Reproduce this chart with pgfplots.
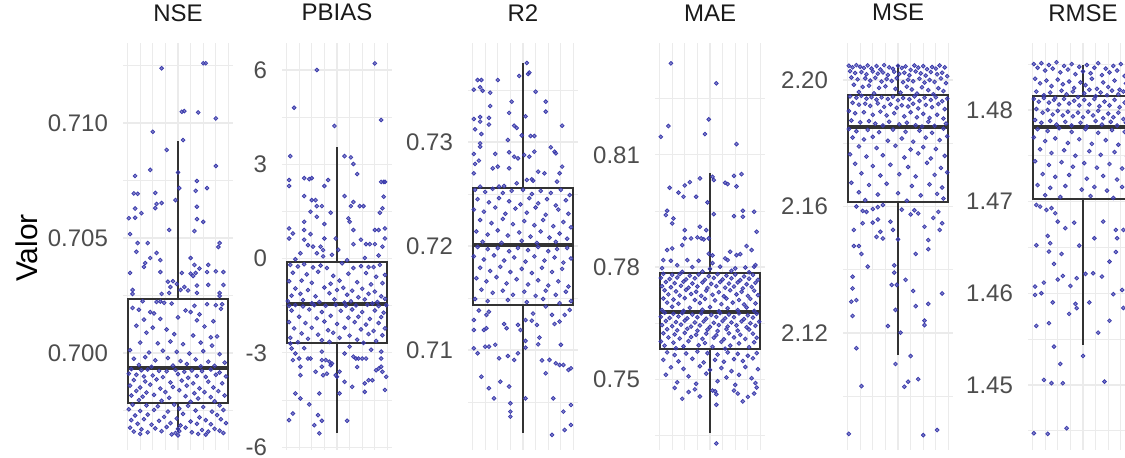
\documentclass[border=0pt]{standalone}
\usepackage{pgfplots}
\pgfplotsset{compat=1.18}
\usepackage{fontspec}
\setmainfont{Liberation Sans}
\definecolor{gridc}{RGB}{235,235,235}
\definecolor{ptc}{RGB}{60,60,172}
\definecolor{boxc}{RGB}{51,51,51}
\definecolor{tickc}{RGB}{77,77,77}
\definecolor{stripc}{RGB}{26,26,26}
\pgfplotsset{
  panel/.style={
    scale only axis, width=55pt, height=203.5pt, anchor=south west,
    xmin=-43.6, xmax=43.6,
    axis line style={draw=none},
    major tick length=0pt, minor tick length=0pt,
    xtick={-40,-30,...,40}, xticklabels={},
    xmajorgrids, ymajorgrids, yminorgrids,
    grid style={gridc, line width=0.6pt},
    minor grid style={gridc, line width=0.4pt},
    scaled y ticks=false,
    tick label style={font=\fontsize{12}{14}\selectfont, text=tickc},
    yticklabel style={xshift=-4pt},
    title style={font=\fontsize{12}{14}\selectfont, text=stripc, at={(0.5,1)}, anchor=base, yshift=5pt},
  },
  pts/.style={color=ptc, only marks, mark=*, mark size=0.95pt, mark options={draw=none, fill=ptc, fill opacity=0.62}},
  bx/.style={draw=boxc, line width=1pt, mark=none},
}
% lower whisker, Q1, median, Q3, upper whisker
\newcommand{\bxp}[5]{%
  \addplot[bx] coordinates {(0,#1)(0,#2)};
  \addplot[bx] coordinates {(0,#4)(0,#5)};
  \addplot[bx, line cap=rect] coordinates {(-40,#2)(40,#2)(40,#4)(-40,#4)(-40,#2)};
  \addplot[bx, line width=1.9pt] coordinates {(-40,#3)(40,#3)};
}
\begin{document}
\begin{tikzpicture}
\node[rotate=90, anchor=base, font=\fontsize{15}{18}\selectfont] at (19pt,104.5pt) {Valor};

% NSE
\begin{axis}[panel, at={(61.5pt,3.5pt)}, title={NSE},
  ymin=0.69578, ymax=0.71348, ytick={0.700,0.705,0.710}, yticklabels={0.700,0.705,0.710},
  minor ytick={0.6975,0.7025,0.7075,0.7125}]
\addplot[pts] coordinates {
(20,.7126)(22,.7126)(-13,.71238)(3,.71049)(5,.71052)(16,.71046)(30,.7102)(-20,.70962)(4,.70926)(-9,.70883)(30,.70813)(-22,.70796)(0,.70785)(-34,.7077)(15,.70748)(1,.70717)(23,.70717)(14,.70705)(-35,.70694)(-32,.70692)(-18,.70696)(-2,.70665)(-13,.70652)(-17,.70648)(15,.70636)(-18,.7063)(-34,.70628)(-29,.70608)(-39,.70586)(-34,.70588)(15,.70582)(20,.7057)(-7,.70535)(13,.7053)(-38,.70517)(-32,.70478)(-24,.70478)(33,.70478)(32,.70461)(-33,.7044)(-17,.70435)(-22,.70413)(10,.70413)(-14,.70404)(-26,.70391)(13,.70383)(24,.70383)(-27,.70374)(17,.70367)(-14,.70352)(23,.70352)(36,.70352)(30,.70355)(-38,.70348)(3,.70348)(10,.70345)(14,.70348)(12,.70335)(-8,.7031)(-4,.70312)(-1,.703)(24,.70296)(36,.70296)(15,.70293)(-6,.70287)(5,.70287)(-36,.70274)(2,.70274)(8,.70272)(-7,.70261)(15,.70261)(33,.70261)(-36,.70257)(-13,.70257)(33,.70248)
(-28,.70225)(-17,.70222)(-14,.70224)(-11,.70218)(-5,.70215)(13,.70205)(23,.70212)(30,.70208)(35,.70212)(-36,.70196)(-31,.70188)(-22,.70178)(-19,.70172)(6,.70185)(10,.70178)(17,.70168)(34,.70192)(-27,.70145)(-14,.70148)(0,.70155)(15,.70142)(28,.70138)(-33,.70118)(-20,.7011)(-9,.70102)(21,.70115)(-25,.70088)(-3,.70082)(12,.70076)(26,.70068)(31,.70072)(-30,.70045)(-16,.70042)(-6,.7005)(4,.70038)(18,.70045)(27,.70032)(-38,.70012)(-23,.70002)(-12,.7001)(-1,.70005)(9,.69998)(20,.70008)(33,.69995)(-35,.69975)(-26,.69982)(-18,.69968)(-8,.69978)(2,.69965)(14,.69972)(24,.69962)(37,.69958)(-31,.69948)(-4,.69945)(7,.69952)(29,.69944)(-21,.6994)(18,.69942)
(-37,.6993)(-29,.69925)(-24,.69928)(-15,.69922)(-9,.6992)(-2,.69926)(5,.69918)(11,.69924)(19,.69921)(26,.69928)(33,.69915)(-39,.6991)(-33,.69905)(-27,.69898)(-20,.69902)(-12,.69895)(0,.69908)(8,.69892)(15,.699)(22,.69896)(30,.69905)(38,.69898)(-35,.69882)(-26,.69876)(-17,.69885)(-6,.69872)(3,.6988)(12,.69868)(24,.69875)(35,.69868)(-38,.69858)(-30,.6985)(-22,.69862)(-14,.69845)(-4,.69852)(7,.69858)(17,.69846)(28,.6985)(-33,.69835)(-25,.69828)(-10,.6983)(1,.69838)(13,.69825)(21,.6983)(32,.69834)(-37,.69815)(-28,.6981)(-19,.69818)(-7,.69805)(6,.69812)(16,.69802)(26,.69808)(37,.69815)(-31,.69795)(-13,.69792)(10,.69788)(29,.6979)
(-36,.69775)(-25,.69772)(-16,.69768)(-3,.69775)(8,.6977)(20,.69765)(33,.69772)(-39,.69755)(-30,.69748)(-19,.69752)(-8,.69745)(1,.69758)(14,.6975)(27,.69745)(36,.69752)(-34,.69728)(-24,.69732)(-11,.69722)(4,.69735)(17,.6972)(31,.6973)(-37,.69708)(-27,.69712)(-15,.69705)(-1,.69715)(10,.69702)(22,.69708)(34,.69712)(-32,.69692)(-21,.69688)(-6,.69695)(2,.69685)(15,.69692)(26,.6969)(38,.69695)(-38,.69675)(-29,.69668)(-18,.69672)(-9,.69678)(0,.6967)(6,.69675)(19,.69665)(29,.6967)(-35,.69658)(-24,.69655)(-13,.6966)(-2,.69652)(1,.6966)(11,.69655)(24,.69658)(33,.69662)(-30,.69648)(-5,.69646)(0,.69642)(16,.69648)(22,.69645)(36,.69652)
};
\bxp{.69657}{.69783}{.69935}{.70235}{.70922}
\end{axis}

% PBIAS
\begin{axis}[panel, at={(141pt,3.5pt)}, title={PBIAS},
  ymin=-6.09, ymax=6.86, ytick={-6,-3,0,3,6}, yticklabels={-6,-3,0,3,6},
  minor ytick={-4.5,-1.5,1.5,4.5}]
\addplot[pts] coordinates {
(30,6.21)(-16,6.0)(-34,4.8)(35,4.41)(-2,4.22)(-37,3.26)(6,3.26)(11,3.22)(13,3.01)(16,2.69)(-26,2.56)(-22,2.53)(-20,2.56)(-38,2.5)(-38,2.31)(-7,2.5)(-10,2.31)(35,2.44)(37,2.44)(38,2.44)(-26,1.99)(6,1.99)(37,1.97)(-20,1.86)(-17,1.86)(13,1.8)(-21,1.49)(-16,1.67)(-12,1.67)(11,1.67)(18,1.67)(21,1.67)(-5,1.46)(36,1.6)(34,1.46)(-16,1.33)(9,1.28)(10,1.17)(-26,1.17)(-10,1.1)(13,0.91)(-38,0.96)(-35,0.8)(-38,0.64)(-26,0.91)(-26,0.6)(-21,0.78)(-10,0.64)(-1,0.64)(30,0.91)(33,0.91)(38,0.96)(19,0.6)(38,0.64)(13,0.46)(23,0.46)(26,0.46)(30,0.46)(36,0.38)(-11,0.27)(-13,0.38)(-23,0.43)(-19,0.38)(1,0.28)(-29,0.17)(-16,0.17)(-11,0.07)(-4,0.12)(33,0.1)(-33,-0.02)(22,0.02)(8,-0.05)
(-37,-0.2)(-31,-0.25)(-26,-0.18)(-19,-0.28)(-13,-0.22)(-8,-0.3)(4,-0.15)(13,-0.3)(19,-0.24)(25,-0.27)(29,-0.27)(34,-0.2)(-35,-0.45)(-24,-0.5)(-15,-0.42)(-3,-0.55)(9,-0.48)(23,-0.46)(31,-0.58)(38,-0.52)(-38,-0.72)(-28,-0.7)(-20,-0.77)(-5,-0.8)(2,-0.7)(16,-0.75)(27,-0.82)(36,-0.78)(-33,-0.95)(-23,-1.0)(-10,-0.92)(0,-1.0)(5,-0.93)(12,-1.02)(20,-0.96)(30,-1.05)(-36,-1.18)(-29,-1.12)(-17,-1.2)(-6,-1.1)(8,-1.15)(17,-1.23)(25,-1.12)(35,-1.2)(-39,-1.35)(-27,-1.32)(-14,-1.38)(-2,-1.3)(11,-1.36)(22,-1.3)(32,-1.38)(38,-1.28)(-20,-1.42)(6,-1.4)(28,-1.43)
(-38,-1.5)(-33,-1.48)(-27,-1.52)(-18,-1.48)(-9,-1.5)(-1,-1.47)(7,-1.5)(15,-1.49)(24,-1.47)(33,-1.51)(39,-1.48)(-36,-1.65)(-22,-1.62)(-12,-1.7)(3,-1.66)(12,-1.62)(20,-1.7)(30,-1.65)(37,-1.72)(-30,-1.85)(-16,-1.9)(-5,-1.82)(9,-1.88)(17,-1.85)(26,-1.92)(35,-1.86)(-38,-2.02)(-25,-2.05)(-10,-2.0)(0,-2.08)(14,-2.02)(23,-2.1)(33,-2.05)(-34,-2.22)(-20,-2.2)(-7,-2.28)(6,-2.2)(19,-2.25)(29,-2.3)(38,-2.22)(-28,-2.38)(-15,-2.42)(-3,-2.36)(10,-2.45)(25,-2.4)(36,-2.44)(-37,-2.52)(-23,-2.55)(-12,-2.6)(2,-2.52)(16,-2.58)(31,-2.62)(-31,-2.66)(-6,-2.65)(21,-2.68)
(-37,-2.7)(-36,-2.86)(-33,-3.02)(-35,-3.23)(-30,-3.18)(-29,-3.44)(-29,-3.71)(-23,-3.18)(-21,-3.18)(-12,-2.96)(-12,-3.23)(-12,-3.44)(-9,-3.23)(-6,-3.28)(-4,-3.34)(-5,-3.39)(-11,-3.71)(-8,-3.66)(-1,-3.71)(0,-3.76)(2,-3.6)(6,-3.02)(10,-2.8)(13,-3.12)(15,-3.18)(17,-3.18)(20,-3.18)(23,-3.18)(6,-3.92)(12,-4.08)(2,-4.29)(22,-3.97)(25,-3.87)(28,-3.87)(22,-4.24)(35,-2.96)(35,-3.18)(35,-3.44)(36,-3.6)(39,-3.76)(38,-4.18)(33,-3.5)(31,-3.55)(-33,-4.29)(-29,-4.45)(-22,-4.64)(-35,-4.93)(-38,-5.14)(-18,-5.3)(-15,-4.98)(-12,-5.16)(-14,-5.56)(8,-5.16)(-14,-4.29)(-26,-2.85)(27,-2.9)(-17,-3.6)(16,-3.45)
};
\bxp{-5.55}{-2.69}{-1.45}{-0.11}{3.55}
\end{axis}

% R2
\begin{axis}[panel, at={(234pt,3.5pt)}, title={R2},
  ymin=0.70038, ymax=0.73952, ytick={0.71,0.72,0.73}, yticklabels={0.71,0.72,0.73},
  minor ytick={0.705,0.715,0.725,0.735}]
\addplot[pts] coordinates {
(3,.7376)(-3,.73635)(4,.73654)(5,.73667)(-36,.73596)(-33,.73596)(-20,.73596)(-34,.73526)(-32,.73493)(-39,.73503)(10,.73484)(-26,.73474)(-9,.73388)(18,.73388)(18,.73292)(-26,.73346)(-11,.7328)(-39,.73221)(-34,.7324)(-34,.73196)(-27,.73232)(-27,.73168)(2,.73247)(31,.73157)(-7,.73157)(-5,.73135)(-38,.73122)(-33,.73077)(-34,.72987)(-34,.72955)(-1,.73064)(6,.73058)(9,.73058)(-12,.7302)(22,.72949)(26,.72891)(25,.72907)(-39,.72885)(-38,.72789)(-35,.72821)(-22,.72885)(-11,.72901)(-7,.72859)(-4,.72843)(1,.72875)(5,.72859)(9,.72907)(-24,.72747)(-20,.72763)(-11,.72747)(12,.72715)(17,.72699)(31,.72763)(-39,.72699)(3,.72635)(7,.72641)(8,.72628)(27,.72619)(29,.72699)(-34,.72571)(-19,.72571)(-5,.72603)(-15,.72577)
(-38,.7254)(-30,.7252)(-24,.7255)(-16,.7251)(-9,.7253)(0,.7254)(7,.7250)(14,.7253)(22,.7251)(30,.7254)(37,.7249)(-36,.7245)(-27,.7242)(-19,.7246)(-11,.7243)(-2,.7240)(5,.7246)(12,.7241)(19,.7245)(26,.7239)(34,.7244)(-39,.7235)(-31,.7233)(-22,.7237)(-14,.7231)(-6,.7236)(3,.7232)(10,.7237)(18,.7230)(28,.7235)(36,.7231)(-34,.7225)(-25,.7222)(-16,.7226)(-8,.7221)(1,.7224)(9,.7220)(16,.7225)(24,.7219)(32,.7223)(38,.7218)(-37,.7214)(-28,.7211)(-20,.7215)(-12,.7210)(-3,.7213)(6,.7209)(14,.7214)(21,.7208)(29,.7212)(35,.7207)(-32,.7204)(-17,.7203)(-1,.7205)(11,.7203)(26,.7204)
(-36,.7199)(-28,.7197)(-20,.7198)(-11,.7195)(-4,.7198)(4,.7196)(12,.7199)(20,.7195)(27,.7197)(35,.7198)(-39,.7190)(-31,.7187)(-23,.7191)(-15,.7186)(-7,.7189)(2,.7185)(9,.7190)(17,.7186)(25,.7189)(32,.7184)(38,.7188)(-34,.7179)(-26,.7176)(-18,.7180)(-10,.7175)(-1,.7178)(7,.7174)(15,.7179)(23,.7175)(31,.7178)(-37,.7169)(-29,.7166)(-21,.7170)(-13,.7164)(-5,.7168)(4,.7163)(12,.7167)(20,.7162)(28,.7166)(36,.7161)(-33,.7158)(-24,.7155)(-16,.7157)(-8,.7153)(1,.7156)(10,.7152)(18,.7157)(26,.7153)(34,.7156)(-38,.7149)(-28,.7147)(-12,.7148)(3,.7146)(16,.7149)(29,.7145)(38,.7147)
(-39,.71288)(-39,.71192)(-29,.71337)(-27,.71368)(-31,.71192)(-29,.71209)(-13,.71209)(-4,.71241)(-2,.71192)(2,.71288)(7,.71282)(11,.71241)(18,.71418)(23,.71337)(25,.7125)(29,.71273)(33,.71337)(37,.71385)(-39,.71016)(-36,.70968)(-30,.71032)(-27,.71032)(-19,.7092)(-12,.70942)(-7,.70904)(-4,.70968)(2,.71087)(2,.71022)(13,.71119)(12,.71054)(21,.70904)(26,.70872)(29,.70856)(32,.70856)(36,.70808)(38,.70824)(18,.70776)(-33,.70743)(-27,.70632)(-23,.70535)(-18,.70695)(-11,.70648)(-10,.70487)(-10,.70407)(-10,.70359)(2,.70535)(24,.70535)(32,.70407)(38,.70471)(23,.70183)(33,.70231)(38,.70279)(-22,.7105)(15,.709)(-15,.7125)(8,.7135)(-35,.7138)(30,.7105)
};
\bxp{.7020}{.71433}{.7201}{.72558}{.7376}
\end{axis}

% MAE
\begin{axis}[panel, at={(327.5pt,3.5pt)}, title={MAE},
  ymin=0.7311, ymax=0.8399, ytick={0.75,0.78,0.81}, yticklabels={0.75,0.78,0.81},
  minor ytick={0.735,0.765,0.795,0.825}]
\addplot[pts] coordinates {
(-31,.83446)(5,.82912)(-33,.8177)(-1,.81949)(-4,.81556)(-39,.81483)(21,.81289)(2,.80414)(3,.80326)(-8,.80371)(19,.8044)(25,.80485)(12,.80254)(14,.80219)(21,.80156)(-32,.8012)(-20,.80182)(-16,.8027)(-25,.7999)(-21,.7988)(-11,.7988)(-2,.7973)(-34,.79505)(-35,.7939)(-29,.79301)(-30,.79167)(3,.79416)(19,.79363)(26,.79505)(26,.79345)(35,.79479)(-8,.79078)(-3,.78989)(37,.78944)(-20,.78989)(-20,.78767)(-15,.78767)(-10,.78794)(-7,.78767)(-5,.7874)(-1,.78767)(-30,.78499)(-34,.78455)(-22,.78588)(2,.78312)(-1,.78356)(2,.78107)(16,.7841)(21,.7832)(24,.78347)(29,.78561)(33,.78455)(-37,.78187)(-31,.78169)(-18,.78187)(-9,.78169)(12,.78232)(14,.78187)(20,.77964)(35,.78009)(36,.78054)(-26,.7805)(8,.7801)(-14,.78)(28,.7799)(-38,.7797)(0,.7795)(17,.779)(-6,.7788)(31,.7786)(-22,.7787)
(-37,.7782)(-30,.7779)(-24,.7781)(-16,.7777)(-9,.7780)(-1,.7776)(6,.7781)(13,.7777)(20,.7780)(27,.7775)(34,.7779)(-39,.7771)(-32,.7768)(-26,.7772)(-19,.7767)(-12,.7770)(-4,.7766)(3,.7771)(10,.7767)(17,.7770)(24,.7765)(31,.7769)(38,.7766)(-35,.7760)(-28,.7757)(-21,.7761)(-14,.7756)(-6,.7759)(1,.7755)(8,.7760)(15,.7756)(22,.7759)(29,.7754)(36,.7758)(-38,.7749)(-31,.7746)(-23,.7750)(-17,.7745)(-10,.7748)(-2,.7744)(5,.7749)(12,.7745)(19,.7748)(26,.7743)(33,.7747)(-36,.7738)(-27,.7735)(-19,.7739)(-11,.7734)(-3,.7737)(7,.7733)(16,.7738)(25,.7734)(35,.7737)(-33,.7727)(-24,.7724)(-15,.7728)(-7,.7723)(2,.7726)(11,.7722)(21,.7727)(30,.7723)(38,.7725)(-37,.7716)(-29,.7713)(-20,.7717)(-12,.7712)(-4,.7715)(4,.7711)(13,.7716)(23,.7712)(32,.7715)(-34,.7705)(-25,.7702)(-8,.7704)(9,.7701)(18,.7705)(27,.7700)(36,.7703)(-30,.7694)(-16,.7691)(0,.7693)(14,.7690)(29,.7692)(-38,.7685)(-21,.7683)(-6,.7686)(7,.7682)(22,.7685)(35,.7683)
(-36,.7678)(-29,.7675)(-22,.7677)(-14,.7673)(-7,.7676)(1,.7672)(8,.7677)(15,.7673)(23,.7676)(30,.7671)(37,.7675)(-39,.7667)(-32,.7664)(-25,.7668)(-18,.7663)(-10,.7666)(-3,.7662)(5,.7667)(12,.7663)(19,.7666)(27,.7661)(34,.7665)(-35,.7656)(-27,.7653)(-20,.7657)(-12,.7652)(-5,.7655)(3,.7651)(10,.7656)(17,.7652)(25,.7655)(32,.7650)(39,.7654)(-38,.7645)(-30,.7642)(-23,.7646)(-15,.7641)(-8,.7644)(0,.7640)(7,.7645)(14,.7641)(21,.7644)(29,.7639)(36,.7643)(-34,.7634)(-26,.7631)(-18,.7635)(-10,.7630)(-2,.7633)(6,.7629)(13,.7634)(22,.7630)(31,.7633)(-37,.7623)(-28,.7620)(-20,.7624)(-11,.7619)(-3,.7622)(5,.7618)(15,.7623)(24,.7619)(34,.7622)(-33,.7612)(-24,.7609)(-15,.7613)(-6,.7608)(3,.7611)(11,.7607)(19,.7612)(28,.7608)(37,.7611)(-39,.7601)(-29,.7598)(-17,.7602)(-4,.7597)(9,.7600)(23,.7596)(35,.7599)(-36,.7590)(-21,.7588)(-9,.7591)(2,.7587)(16,.7590)(31,.7586)(-27,.7583)(12,.7582)
(-34,.7572)(-28,.7565)(-19,.7569)(-10,.7574)(-2,.757)(6,.7566)(14,.7572)(22,.7568)(30,.7563)(37,.757)(-37,.7552)(-25,.7548)(-14,.7555)(-5,.7545)(4,.7552)(11,.7547)(19,.7554)(26,.7549)(34,.7556)(-31,.7532)(-21,.7528)(-8,.7535)(0,.7525)(9,.753)(17,.7522)(28,.7533)(38,.7527)(-35,.7512)(-17,.7508)(-3,.7515)(13,.7505)(23,.7512)(33,.7503)(-26,.7492)(-11,.7488)(6,.7495)(20,.7485)(36,.749)(-28,.7477)(-17,.7466)(-12,.7473)(2,.747)(4,.7468)(19,.747)(22,.7462)(35,.7462)(37,.7478)(5,.746)(5,.7432)(-8,.7454)(26,.7441)(5,.73286)(-22,.7448)(30,.7453)
};
\bxp{.7356}{.7581}{.7680}{.7784}{.80513}
\end{axis}

% MSE
\begin{axis}[panel, at={(421.5pt,3.5pt)}, title={MSE},
  ymin=2.083, ymax=2.2117, ytick={2.12,2.16,2.20}, yticklabels={2.12,2.16,2.20},
  minor ytick={2.10,2.14,2.18}]
\addplot[pts] coordinates {
(-39,2.2045)(-36,2.204)(-33,2.2047)(-30,2.2042)(-27,2.2038)(-24,2.2046)(-21,2.2036)(-17,2.2044)(-14,2.2033)(-11,2.2047)(-7,2.204)(-4,2.2035)(0,2.2045)(3,2.2038)(6,2.2043)(10,2.2032)(13,2.2046)(16,2.2039)(20,2.2044)(23,2.2034)(27,2.2041)(30,2.2036)(33,2.2046)(37,2.204)(-38,2.2028)(-34,2.2022)(-29,2.2025)(-25,2.2018)(-20,2.2027)(-16,2.202)(-12,2.2024)(-8,2.2016)(-3,2.2026)(1,2.2019)(5,2.2023)(9,2.2015)(14,2.2027)(18,2.2021)(22,2.2014)(26,2.2025)(31,2.2018)(35,2.2023)(39,2.2012)(-37,2.2008)(-32,2.2002)(-26,2.2005)(-22,2.1998)(-18,2.2007)(-13,2.1995)(-9,2.2003)(-5,2.1997)(-1,2.2006)(4,2.1993)(8,2.2001)(12,2.1996)(17,2.2004)(21,2.1992)(25,2.2)(29,2.1994)(34,2.2005)(38,2.199)(-35,2.1985)(-28,2.1978)(-23,2.1982)(-15,2.1975)(-10,2.198)(-2,2.1972)(7,2.1979)(11,2.197)(19,2.1977)(24,2.1968)(32,2.1974)(36,2.1965)(-31,2.1962)(-19,2.1958)(2,2.196)(15,2.1957)(28,2.1955)
(-38,2.1948)(-33,2.1944)(-29,2.195)(-25,2.1941)(-21,2.1946)(-17,2.1938)(-13,2.1945)(-8,2.194)(-4,2.1947)(0,2.1936)(4,2.1943)(9,2.1939)(13,2.1948)(17,2.1934)(21,2.1944)(26,2.1937)(30,2.1945)(35,2.1933)(39,2.1941)(-36,2.1928)(-31,2.1922)(-26,2.1925)(-22,2.1918)(-16,2.1926)(-11,2.1915)(-6,2.1923)(-1,2.1912)(3,2.192)(8,2.1916)(12,2.1925)(16,2.191)(22,2.1921)(27,2.1914)(32,2.1924)(37,2.1908)(-39,2.1902)(-34,2.1895)(-27,2.1898)(-20,2.189)(-14,2.19)(-9,2.1888)(-3,2.1895)(5,2.1885)(10,2.1898)(15,2.1882)(20,2.1893)(25,2.188)(31,2.189)(36,2.1878)(-37,2.1872)(-30,2.1866)(-23,2.187)(-18,2.1862)(-7,2.1868)(1,2.186)(7,2.1865)(14,2.1857)(24,2.1868)(29,2.1855)(38,2.1862)(-12,2.1856)(19,2.1853)
(-39,2.1845)(-33,2.1838)(-24,2.1842)(-15,2.1835)(-4,2.1843)(6,2.1836)(17,2.184)(27,2.1833)(36,2.1846)(-36,2.1818)(-27,2.1812)(-20,2.182)(-8,2.1808)(3,2.1815)(12,2.1805)(22,2.1818)(33,2.181)(39,2.1822)(-31,2.179)(-17,2.1785)(-2,2.1792)(10,2.178)(20,2.1788)(30,2.1782)(-38,2.1765)(-25,2.1758)(-12,2.1762)(5,2.1755)(16,2.1768)(26,2.1752)(37,2.176)(-34,2.1735)(-20,2.1728)(-6,2.1732)(8,2.1725)(23,2.1738)(34,2.1722)(-29,2.1705)(-14,2.1698)(1,2.1702)(14,2.1695)(29,2.17)(39,2.1708)(-37,2.1675)(-23,2.1668)(-9,2.1672)(11,2.1665)(25,2.167)(35,2.166)(-31,2.1645)(-16,2.1638)(0,2.1642)(18,2.1635)(31,2.164)(-26,2.162)(7,2.1618)(36,2.1625)
(-39,2.0881)(20,2.0877)(31,2.0893)(-29,2.1032)(5,2.103)(8,2.1046)(16,2.1054)(-2,2.1102)(10,2.1127)(-33,2.1152)(-8,2.1222)(2,2.1201)(-36,2.1254)(-37,2.1299)(-33,2.1304)(-36,2.1341)(-36,2.1378)(-2,2.1273)(-5,2.1352)(-1,2.1352)(6,2.1368)(14,2.1285)(21,2.1225)(21,2.1239)(24,2.1292)(35,2.1325)(12,2.1333)(-24,2.141)(-3,2.1414)(-3,2.1391)(14,2.145)(24,2.1465)(-35,2.1475)(-31,2.1475)(-29,2.145)(-17,2.1504)(-14,2.152)(-12,2.1499)(-6,2.1552)(-4,2.1526)(0,2.1496)(-35,2.1526)(-28,2.1547)(-20,2.1549)(-16,2.1559)(21,2.1536)(24,2.1494)(35,2.1547)(33,2.1526)(28,2.1564)(16,2.1578)(32,2.1583)(-33,2.16)(-28,2.1586)(-25,2.1583)(-20,2.1592)(-16,2.1598)(-12,2.1605)(3,2.159)(10,2.1575)(13,2.1588)
};
\bxp{2.1130}{2.1614}{2.1851}{2.1953}{2.2048}
\end{axis}

% RMSE
\begin{axis}[panel, at={(514pt,3.5pt)}, title={RMSE},
  ymin=1.4429, ymax=1.4873, ytick={1.45,1.46,1.47,1.48}, yticklabels={1.45,1.46,1.47,1.48},
  minor ytick={1.445,1.455,1.465,1.475,1.485}]
\addplot[pts] coordinates {
(-39,1.485)(-36,1.4846)(-33,1.4851)(-30,1.4843)(-27,1.4849)(-24,1.4845)(-21,1.4852)(-18,1.4841)(-15,1.4848)(-12,1.4844)(-9,1.485)(-6,1.4839)(-3,1.4847)(0,1.4842)(3,1.4849)(6,1.484)(9,1.4846)(12,1.4851)(15,1.4838)(18,1.4845)(21,1.4841)(24,1.4848)(27,1.4843)(30,1.485)(33,1.4837)(36,1.4846)(39,1.4842)(-38,1.4834)(-34,1.4829)(-29,1.4832)(-25,1.4826)(-20,1.4833)(-16,1.4828)(-11,1.4831)(-7,1.4824)(-2,1.483)(2,1.4827)(7,1.4834)(11,1.4823)(16,1.483)(20,1.4825)(25,1.4832)(29,1.4822)(34,1.4829)(38,1.4826)(-37,1.482)(-31,1.4816)(-26,1.4819)(-22,1.4813)(-17,1.4821)(-13,1.4817)(-8,1.482)(-4,1.4814)(1,1.4818)(5,1.4822)(10,1.4815)(14,1.4819)(19,1.4816)(23,1.4821)(28,1.4817)(32,1.482)(37,1.4816)
(-39,1.4812)(-35,1.4809)(-31,1.4813)(-27,1.4808)(-23,1.4811)(-19,1.4806)(-15,1.4812)(-11,1.4807)(-7,1.481)(-3,1.4805)(1,1.4811)(5,1.4806)(9,1.4812)(13,1.4804)(17,1.4809)(21,1.4805)(25,1.4811)(29,1.4803)(33,1.4808)(37,1.4804)(-37,1.4801)(-32,1.4797)(-28,1.48)(-24,1.4795)(-20,1.4799)(-16,1.4794)(-12,1.4798)(-8,1.4793)(-4,1.4797)(0,1.4792)(4,1.4798)(8,1.4794)(12,1.4799)(16,1.4791)(20,1.4796)(24,1.4792)(28,1.4797)(32,1.479)(36,1.4795)(-38,1.4789)(-33,1.4786)(-26,1.4788)(-21,1.4784)(-14,1.4787)(-9,1.4783)(-2,1.4786)(3,1.4782)(10,1.4788)(15,1.4784)(22,1.4787)(27,1.4783)(34,1.4786)(39,1.4782)
(-36,1.4779)(-28,1.4777)(-19,1.478)(-9,1.4776)(2,1.4779)(12,1.4775)(23,1.4778)(33,1.4776)(-39,1.477)(-30,1.4766)(-22,1.4769)(-12,1.4764)(-3,1.4768)(7,1.4763)(18,1.4767)(28,1.4762)(37,1.4768)(-34,1.4757)(-25,1.4753)(-15,1.4756)(-6,1.475)(5,1.4755)(14,1.4751)(25,1.4754)(35,1.4749)(-38,1.4744)(-27,1.474)(-17,1.4743)(-8,1.4738)(1,1.4742)(11,1.4737)(21,1.4741)(31,1.4736)(-32,1.473)(-22,1.4727)(-11,1.4729)(3,1.4725)(16,1.4728)(27,1.4724)(37,1.473)(-36,1.4718)(-26,1.4715)(-14,1.4717)(-1,1.4713)(9,1.4716)(19,1.4712)(31,1.4716)(-30,1.4707)(-18,1.4705)(6,1.4706)(24,1.4704)(38,1.4708)
(-39,1.44473)(-28,1.44466)(-13,1.44528)(-31,1.45055)(-25,1.45019)(-16,1.45019)(17,1.45036)(-18,1.45229)(-23,1.45418)(0,1.45316)(-37,1.45644)(-27,1.45673)(-11,1.45775)(-6,1.45884)(-5,1.45837)(21,1.457)(32,1.4584)(31,1.46036)(24,1.4599)(-38,1.46073)(-31,1.46116)(-38,1.45982)(-16,1.46189)(-5,1.46164)(2,1.46211)(8,1.46218)(15,1.46182)(-23,1.4632)(-17,1.46429)(-26,1.46546)(-27,1.46455)(-37,1.46524)(-28,1.46625)(9,1.466)(21,1.46345)(27,1.466)(32,1.46691)(26,1.46691)(16,1.46782)(-20,1.46782)(-14,1.4671)(-7,1.4677)(-22,1.46873)(-29,1.46909)(-34,1.46945)(-37,1.46964)(-25,1.46928)(-33,1.46)(-20,1.4615)(5,1.459)(-10,1.4608)(12,1.4557)(-24,1.459)(26,1.4645)(-3,1.4652)
};
\bxp{1.45437}{1.47029}{1.47815}{1.48153}{1.48491}
\end{axis}
\pgfresetboundingbox
\useasboundingbox (0,0) rectangle (562.5pt,228.5pt);
\end{tikzpicture}
\end{document}
